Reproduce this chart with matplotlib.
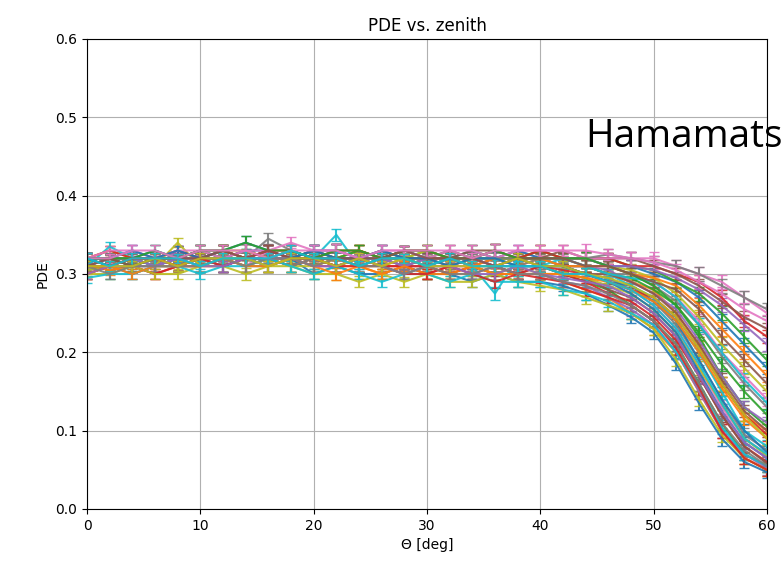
import matplotlib
matplotlib.use("Agg")
import matplotlib.pyplot as plt

# zenith angles (deg)
theta = [0, 2, 4, 6, 8, 10, 12, 14, 16, 18, 20, 22, 24, 26, 28, 30, 32, 34, 36, 38,
         40, 42, 44, 46, 48, 50, 52, 54, 56, 58, 60]

# shared statistical error per point
pde_err = [0.007, 0.006, 0.007, 0.007, 0.006, 0.007, 0.007, 0.008, 0.007, 0.007,
           0.007, 0.008, 0.007, 0.007, 0.006, 0.007, 0.007, 0.007, 0.008, 0.007,
           0.007, 0.007, 0.008, 0.007, 0.008, 0.008, 0.008, 0.009, 0.009, 0.008, 0.008]

# PDE per sensor
pde_01 = [0.305, 0.31, 0.30, 0.31, 0.31, 0.32, 0.32, 0.31, 0.31, 0.32, 0.30, 0.31, 0.30, 0.30, 0.31, 0.30, 0.30, 0.29, 0.30, 0.29,
          0.29, 0.285, 0.275, 0.26, 0.245, 0.225, 0.185, 0.135, 0.09, 0.06, 0.047]
pde_02 = [0.31, 0.305, 0.31, 0.32, 0.31, 0.32, 0.33, 0.32, 0.32, 0.31, 0.32, 0.31, 0.31, 0.30, 0.31, 0.31, 0.30, 0.30, 0.31, 0.30,
          0.30, 0.29, 0.28, 0.27, 0.25, 0.23, 0.20, 0.15, 0.10, 0.065, 0.05]
pde_03 = [0.32, 0.31, 0.32, 0.31, 0.32, 0.33, 0.32, 0.33, 0.32, 0.32, 0.31, 0.32, 0.32, 0.31, 0.30, 0.31, 0.32, 0.31, 0.30, 0.31,
          0.31, 0.30, 0.29, 0.28, 0.26, 0.24, 0.21, 0.16, 0.11, 0.07, 0.055]
pde_04 = [0.30, 0.31, 0.31, 0.30, 0.31, 0.31, 0.32, 0.32, 0.33, 0.32, 0.32, 0.31, 0.32, 0.31, 0.31, 0.30, 0.31, 0.31, 0.30, 0.30,
          0.30, 0.30, 0.29, 0.275, 0.265, 0.245, 0.215, 0.17, 0.12, 0.08, 0.06]
pde_05 = [0.31, 0.32, 0.31, 0.31, 0.33, 0.32, 0.31, 0.32, 0.32, 0.33, 0.32, 0.32, 0.31, 0.32, 0.31, 0.31, 0.31, 0.30, 0.31, 0.30,
          0.30, 0.29, 0.285, 0.27, 0.255, 0.235, 0.20, 0.15, 0.10, 0.07, 0.052]
pde_06 = [0.32, 0.31, 0.31, 0.32, 0.31, 0.32, 0.32, 0.33, 0.32, 0.32, 0.33, 0.32, 0.31, 0.32, 0.32, 0.31, 0.31, 0.32, 0.31, 0.30,
          0.31, 0.30, 0.295, 0.28, 0.27, 0.25, 0.22, 0.17, 0.12, 0.08, 0.058]
pde_07 = [0.31, 0.31, 0.32, 0.31, 0.32, 0.32, 0.32, 0.31, 0.33, 0.32, 0.32, 0.33, 0.32, 0.31, 0.32, 0.32, 0.31, 0.31, 0.32, 0.31,
          0.31, 0.31, 0.30, 0.29, 0.28, 0.26, 0.23, 0.18, 0.13, 0.09, 0.07]
pde_08 = [0.32, 0.32, 0.31, 0.32, 0.32, 0.31, 0.32, 0.32, 0.345, 0.33, 0.32, 0.32, 0.33, 0.32, 0.31, 0.32, 0.32, 0.31, 0.31, 0.32,
          0.31, 0.30, 0.30, 0.295, 0.28, 0.265, 0.235, 0.19, 0.14, 0.095, 0.075]
pde_09 = [0.305, 0.31, 0.31, 0.31, 0.34, 0.31, 0.32, 0.31, 0.32, 0.31, 0.31, 0.32, 0.31, 0.31, 0.30, 0.31, 0.30, 0.31, 0.30, 0.31,
          0.30, 0.30, 0.295, 0.285, 0.275, 0.255, 0.225, 0.18, 0.135, 0.09, 0.068]
pde_10 = [0.31, 0.335, 0.32, 0.31, 0.32, 0.33, 0.32, 0.32, 0.31, 0.32, 0.33, 0.32, 0.32, 0.32, 0.33, 0.32, 0.32, 0.31, 0.275, 0.32,
          0.32, 0.31, 0.31, 0.30, 0.285, 0.27, 0.24, 0.20, 0.15, 0.10, 0.08]
pde_11 = [0.32, 0.31, 0.32, 0.32, 0.31, 0.32, 0.31, 0.32, 0.32, 0.32, 0.32, 0.33, 0.32, 0.32, 0.32, 0.31, 0.32, 0.32, 0.31, 0.31,
          0.31, 0.31, 0.30, 0.29, 0.285, 0.265, 0.24, 0.19, 0.14, 0.10, 0.072]
pde_12 = [0.31, 0.31, 0.32, 0.31, 0.31, 0.32, 0.32, 0.33, 0.32, 0.32, 0.32, 0.32, 0.33, 0.32, 0.32, 0.32, 0.31, 0.32, 0.32, 0.31,
          0.32, 0.31, 0.31, 0.30, 0.29, 0.28, 0.25, 0.21, 0.16, 0.12, 0.10]
pde_13 = [0.32, 0.32, 0.31, 0.32, 0.32, 0.32, 0.33, 0.32, 0.32, 0.33, 0.32, 0.32, 0.32, 0.33, 0.32, 0.33, 0.32, 0.32, 0.32, 0.32,
          0.32, 0.32, 0.31, 0.30, 0.295, 0.28, 0.26, 0.22, 0.17, 0.13, 0.105]
pde_14 = [0.30, 0.31, 0.31, 0.30, 0.31, 0.31, 0.31, 0.32, 0.31, 0.32, 0.31, 0.31, 0.32, 0.31, 0.31, 0.31, 0.30, 0.31, 0.31, 0.30,
          0.31, 0.305, 0.30, 0.29, 0.28, 0.27, 0.245, 0.205, 0.16, 0.12, 0.095]
pde_15 = [0.31, 0.32, 0.31, 0.32, 0.33, 0.32, 0.32, 0.32, 0.33, 0.32, 0.33, 0.32, 0.32, 0.32, 0.31, 0.32, 0.32, 0.32, 0.33, 0.32,
          0.32, 0.31, 0.31, 0.305, 0.29, 0.275, 0.255, 0.215, 0.17, 0.13, 0.11]
pde_16 = [0.32, 0.32, 0.32, 0.31, 0.32, 0.32, 0.32, 0.32, 0.32, 0.31, 0.32, 0.32, 0.31, 0.32, 0.33, 0.32, 0.32, 0.31, 0.32, 0.32,
          0.31, 0.31, 0.30, 0.30, 0.29, 0.275, 0.25, 0.21, 0.165, 0.125, 0.10]
pde_17 = [0.32, 0.32, 0.33, 0.32, 0.32, 0.33, 0.32, 0.32, 0.33, 0.33, 0.32, 0.33, 0.32, 0.33, 0.32, 0.32, 0.33, 0.32, 0.32, 0.33,
          0.32, 0.32, 0.31, 0.31, 0.30, 0.29, 0.27, 0.24, 0.20, 0.17, 0.14]
pde_18 = [0.31, 0.31, 0.31, 0.32, 0.31, 0.32, 0.31, 0.32, 0.32, 0.31, 0.32, 0.31, 0.32, 0.32, 0.31, 0.32, 0.31, 0.32, 0.31, 0.31,
          0.32, 0.31, 0.31, 0.30, 0.30, 0.285, 0.265, 0.235, 0.195, 0.16, 0.13]
pde_19 = [0.32, 0.33, 0.32, 0.32, 0.32, 0.32, 0.33, 0.33, 0.32, 0.32, 0.33, 0.32, 0.33, 0.32, 0.32, 0.33, 0.32, 0.33, 0.32, 0.32,
          0.33, 0.32, 0.32, 0.31, 0.305, 0.295, 0.275, 0.245, 0.21, 0.18, 0.15]
pde_20 = [0.31, 0.32, 0.32, 0.31, 0.32, 0.31, 0.32, 0.32, 0.31, 0.32, 0.32, 0.35, 0.31, 0.32, 0.32, 0.31, 0.32, 0.32, 0.32, 0.31,
          0.31, 0.32, 0.31, 0.30, 0.295, 0.29, 0.27, 0.235, 0.20, 0.165, 0.135]
pde_21 = [0.32, 0.32, 0.32, 0.33, 0.32, 0.32, 0.32, 0.33, 0.33, 0.32, 0.33, 0.33, 0.32, 0.32, 0.33, 0.32, 0.32, 0.33, 0.32, 0.33,
          0.32, 0.32, 0.32, 0.31, 0.31, 0.30, 0.29, 0.27, 0.24, 0.21, 0.18]
pde_22 = [0.31, 0.31, 0.32, 0.32, 0.31, 0.32, 0.32, 0.31, 0.32, 0.32, 0.31, 0.32, 0.32, 0.31, 0.32, 0.32, 0.32, 0.31, 0.32, 0.32,
          0.32, 0.31, 0.31, 0.31, 0.30, 0.295, 0.285, 0.26, 0.23, 0.20, 0.17]
pde_23 = [0.32, 0.32, 0.31, 0.32, 0.32, 0.33, 0.32, 0.32, 0.32, 0.33, 0.32, 0.32, 0.33, 0.32, 0.32, 0.32, 0.33, 0.32, 0.32, 0.32,
          0.33, 0.32, 0.32, 0.32, 0.31, 0.305, 0.29, 0.275, 0.25, 0.22, 0.19]
pde_24 = [0.32, 0.33, 0.32, 0.32, 0.33, 0.32, 0.33, 0.32, 0.33, 0.33, 0.32, 0.33, 0.33, 0.32, 0.33, 0.33, 0.32, 0.32, 0.33, 0.32,
          0.33, 0.32, 0.32, 0.32, 0.31, 0.31, 0.30, 0.29, 0.27, 0.24, 0.22]
pde_25 = [0.31, 0.32, 0.32, 0.31, 0.32, 0.32, 0.32, 0.32, 0.31, 0.32, 0.32, 0.32, 0.32, 0.32, 0.31, 0.32, 0.32, 0.32, 0.31, 0.32,
          0.32, 0.32, 0.32, 0.31, 0.31, 0.305, 0.295, 0.28, 0.26, 0.235, 0.21]
pde_26 = [0.32, 0.32, 0.32, 0.32, 0.32, 0.33, 0.33, 0.32, 0.32, 0.32, 0.33, 0.32, 0.32, 0.33, 0.32, 0.32, 0.32, 0.33, 0.33, 0.32,
          0.32, 0.33, 0.32, 0.32, 0.32, 0.31, 0.30, 0.285, 0.265, 0.245, 0.23]
pde_27 = [0.32, 0.33, 0.33, 0.32, 0.33, 0.33, 0.32, 0.33, 0.33, 0.34, 0.33, 0.33, 0.32, 0.33, 0.33, 0.32, 0.33, 0.33, 0.32, 0.33,
          0.33, 0.33, 0.32, 0.32, 0.32, 0.32, 0.31, 0.30, 0.29, 0.27, 0.25]
pde_28 = [0.31, 0.32, 0.32, 0.32, 0.31, 0.32, 0.32, 0.32, 0.32, 0.32, 0.32, 0.32, 0.32, 0.32, 0.32, 0.31, 0.32, 0.32, 0.32, 0.32,
          0.32, 0.32, 0.32, 0.325, 0.32, 0.315, 0.31, 0.30, 0.285, 0.27, 0.255]
pde_29 = [0.30, 0.30, 0.31, 0.30, 0.30, 0.31, 0.31, 0.30, 0.31, 0.31, 0.30, 0.30, 0.29, 0.30, 0.29, 0.30, 0.29, 0.29, 0.30, 0.29,
          0.285, 0.28, 0.27, 0.26, 0.25, 0.23, 0.19, 0.14, 0.095, 0.065, 0.05]
pde_30 = [0.295, 0.30, 0.30, 0.31, 0.31, 0.30, 0.31, 0.31, 0.32, 0.31, 0.30, 0.31, 0.30, 0.29, 0.30, 0.30, 0.29, 0.30, 0.29, 0.29,
          0.29, 0.28, 0.275, 0.265, 0.25, 0.235, 0.20, 0.155, 0.105, 0.07, 0.055]
pde_31 = [0.32, 0.32, 0.33, 0.32, 0.33, 0.32, 0.33, 0.34, 0.33, 0.32, 0.33, 0.32, 0.32, 0.33, 0.32, 0.32, 0.31, 0.32, 0.32, 0.31,
          0.31, 0.31, 0.30, 0.29, 0.275, 0.255, 0.225, 0.175, 0.125, 0.085, 0.065]
pde_32 = [0.30, 0.31, 0.30, 0.31, 0.31, 0.31, 0.32, 0.31, 0.31, 0.32, 0.31, 0.30, 0.31, 0.30, 0.31, 0.30, 0.30, 0.31, 0.30, 0.30,
          0.30, 0.30, 0.295, 0.29, 0.28, 0.265, 0.24, 0.20, 0.155, 0.115, 0.09]
pde_33 = [0.32, 0.32, 0.32, 0.33, 0.32, 0.33, 0.33, 0.34, 0.33, 0.33, 0.32, 0.33, 0.33, 0.32, 0.33, 0.33, 0.32, 0.32, 0.33, 0.32,
          0.32, 0.32, 0.32, 0.31, 0.30, 0.285, 0.26, 0.225, 0.185, 0.15, 0.12]
pde_34 = [0.31, 0.31, 0.32, 0.32, 0.31, 0.32, 0.31, 0.32, 0.33, 0.32, 0.32, 0.31, 0.31, 0.31, 0.30, 0.30, 0.31, 0.30, 0.29, 0.30,
          0.295, 0.29, 0.28, 0.27, 0.26, 0.24, 0.205, 0.155, 0.10, 0.065, 0.05]
pde_35 = [0.30, 0.31, 0.31, 0.31, 0.32, 0.31, 0.31, 0.32, 0.32, 0.32, 0.31, 0.31, 0.32, 0.31, 0.30, 0.31, 0.31, 0.30, 0.30, 0.31,
          0.30, 0.295, 0.29, 0.285, 0.27, 0.25, 0.22, 0.17, 0.125, 0.085, 0.065]
pde_36 = [0.31, 0.32, 0.31, 0.32, 0.32, 0.32, 0.33, 0.32, 0.33, 0.32, 0.32, 0.32, 0.32, 0.32, 0.33, 0.32, 0.32, 0.32, 0.31, 0.32,
          0.32, 0.32, 0.31, 0.31, 0.30, 0.29, 0.28, 0.255, 0.22, 0.19, 0.16]
pde_37 = [0.32, 0.32, 0.33, 0.33, 0.32, 0.33, 0.33, 0.33, 0.32, 0.33, 0.33, 0.33, 0.32, 0.33, 0.33, 0.33, 0.33, 0.32, 0.33, 0.33,
          0.33, 0.33, 0.33, 0.325, 0.32, 0.315, 0.305, 0.29, 0.275, 0.255, 0.24]
pde_38 = [0.31, 0.30, 0.31, 0.31, 0.31, 0.31, 0.32, 0.31, 0.32, 0.32, 0.31, 0.32, 0.31, 0.31, 0.30, 0.31, 0.30, 0.30, 0.31, 0.30,
          0.30, 0.29, 0.285, 0.275, 0.26, 0.24, 0.21, 0.16, 0.11, 0.075, 0.055]
pde_39 = [0.31, 0.31, 0.31, 0.32, 0.31, 0.32, 0.32, 0.32, 0.31, 0.32, 0.32, 0.31, 0.32, 0.31, 0.32, 0.31, 0.31, 0.31, 0.31, 0.32,
          0.31, 0.31, 0.30, 0.295, 0.285, 0.27, 0.245, 0.205, 0.16, 0.12, 0.09]
pde_40 = [0.32, 0.31, 0.32, 0.32, 0.32, 0.31, 0.32, 0.32, 0.32, 0.33, 0.32, 0.32, 0.31, 0.32, 0.32, 0.31, 0.32, 0.31, 0.31, 0.31,
          0.31, 0.30, 0.30, 0.29, 0.28, 0.26, 0.23, 0.185, 0.135, 0.09, 0.07]

sensors = [pde_01, pde_02, pde_03, pde_04, pde_05, pde_06, pde_07, pde_08, pde_09, pde_10,
           pde_11, pde_12, pde_13, pde_14, pde_15, pde_16, pde_17, pde_18, pde_19, pde_20,
           pde_21, pde_22, pde_23, pde_24, pde_25, pde_26, pde_27, pde_28, pde_29, pde_30,
           pde_31, pde_32, pde_33, pde_34, pde_35, pde_36, pde_37, pde_38, pde_39, pde_40]

fig = plt.figure(figsize=(7.81, 5.67), dpi=100)
ax = fig.add_axes([87 / 781, 58 / 567, 680 / 781, 470 / 567])

for pde in sensors:
    ax.errorbar(theta, pde, yerr=pde_err, capsize=3.5, linewidth=1.5, capthick=1, alpha=0.9)

ax.set_xlim(0, 60)
ax.set_ylim(0, 0.6)
ax.set_title("PDE vs. zenith")
ax.set_xlabel("Θ [deg]")
ax.set_ylabel("PDE")
ax.grid(True)

# slide label overlapping the plot (cut off at the right edge, as on the slide)
fig.text(585 / 781, (567 - 147) / 567, "Hamamatsu", fontsize=28,
         family="Open Sans", va="baseline", ha="left")

fig.savefig("out.png", dpi=100)
